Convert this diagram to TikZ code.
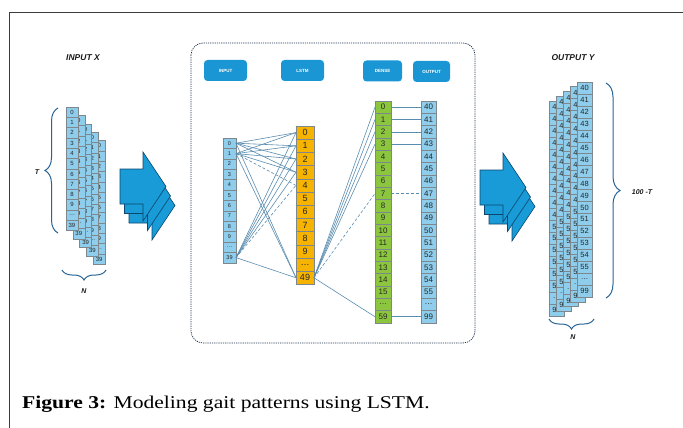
\documentclass[tikz,border=0pt]{standalone}
\usepackage{fontspec}
\setmainfont{Liberation Sans}
\newfontfamily\capfont[FakeStretch=1.2]{Liberation Serif}
\usetikzlibrary{decorations.pathreplacing}
\definecolor{cellblue}{RGB}{142,205,235}
\definecolor{cellorange}{RGB}{246,180,0}
\definecolor{cellgreen}{RGB}{140,198,63}
\definecolor{cellline}{RGB}{125,135,140}
\definecolor{linkc}{RGB}{90,140,175}
\definecolor{btnblue}{RGB}{26,150,212}
\definecolor{arrowfill}{RGB}{24,155,215}
\definecolor{arrowedge}{RGB}{12,70,110}
\definecolor{bracec}{RGB}{40,100,150}
\definecolor{boxc}{RGB}{30,50,80}
\definecolor{framec}{RGB}{60,60,60}
\tikzset{
 cellbox/.style={draw=cellline, line width=0.5pt, inner sep=0pt, outer sep=0pt, text=black!85, anchor=north west},
 link/.style={draw=linkc, line width=0.6pt},
 linkdash/.style={link, dash pattern=on 3pt off 2pt},
 btn/.style={fill=btnblue, rounded corners=3.5pt, text=white, font=\bfseries\fontsize{4.5}{5}\selectfont, minimum height=21pt, inner sep=0pt},
 lbl/.style={font=\bfseries\itshape\fontsize{8.5}{9}\selectfont, text=black!90},
 slbl/.style={font=\bfseries\itshape\fontsize{7}{8}\selectfont, text=black!90},
 bigarrow/.style={fill=arrowfill, draw=arrowedge, line width=0.6pt, line join=miter},
 bracedec/.style={draw=bracec, line width=1pt, decorate, decoration={brace, amplitude=#1}},
}
\newcommand\mkcol[8]{%
 \foreach \lab [count=\i from 0] in {#8}{%
  \node[cellbox, fill=#6, minimum width=#4pt, minimum height=#5pt, font=\fontsize{#7}{#7}\selectfont] (#1-\i) at (#2,{#3+\i*#5}) {\lab};
 }}
\newcommand\bigarr[2]{\filldraw[bigarrow] (#1,#2) -- ++(23,0) -- ++(0,-17) -- ++(23,34.5) -- ++(-23,34.5) -- ++(0,-17) -- ++(-23,0) -- cycle;}
\begin{document}
\begin{tikzpicture}[x=1pt,y=-1pt]
\useasboundingbox (0,0) rectangle (683,428);
% frame
\draw[framec, line width=0.8pt] (683,12) -- (9,12) -- (9,428);
% left stack
\node[lbl] (inx) at (83,58) {INPUT X};
\foreach \k in {4,3,2,1,0}{
 \pgfmathsetmacro\xx{66+6.8*\k}\pgfmathsetmacro\yy{107+8.4*\k}
 \mkcol{L\k}{\xx}{\yy}{12}{10.3}{cellblue}{6}{0,1,2,3,4,5,6,7,8,9,\ldots,39}
}
\draw[bracedec=13pt] (58,233) -- (58,108);
\draw[bracedec=10pt] (106,270) -- (62,270);
\node[slbl] (tl) at (37,172) {T};
\node[slbl] (nl) at (84,291) {N};
% left arrows
\bigarr{129}{188}
\bigarr{124.5}{178.5}
\bigarr{120}{169}
% middle box
\draw[boxc, line width=0.7pt, dash pattern=on 1.2pt off 1pt, rounded corners=12pt] (191,43) rectangle (475,343);
\node[btn, minimum width=43pt] (bIn) at (225.5,70.5) {INPUT};
\node[btn, minimum width=43pt] (bLs) at (302.5,70.5) {LSTM};
\node[btn, minimum width=39pt] (bDe) at (382.5,71) {DENSE};
\node[btn, minimum width=37pt] (bOu) at (431.5,71.5) {OUTPUT};
\mkcol{in}{223}{138}{13}{10.4}{cellblue}{5.5}{0,1,2,3,4,5,6,7,8,9,\ldots,39}
\mkcol{lstm}{296}{126}{18}{13.2}{cellorange}{9}{0,1,2,3,4,5,6,7,8,9,\ldots,49}
\mkcol{dn}{375}{101}{16}{12.33}{cellgreen}{8}{0,1,2,3,4,5,6,7,8,9,10,11,12,13,14,15,\ldots,59}
\mkcol{out}{421}{101}{15}{12.33}{cellblue}{8}{40,41,42,43,44,45,46,47,48,49,50,51,52,53,54,55,\ldots,99}
\foreach \s in {0,1,11}{\foreach \d in {0,1,2,3,11}{\draw[link] (in-\s.east) -- (lstm-\d.west);}}
\foreach \s in {1,11}{\draw[linkdash] (in-\s.east) -- (lstm-4.west);}
\foreach \d in {0,1,2,3,17}{\draw[link] (lstm-11.east) -- (dn-\d.west);}
\draw[linkdash] (lstm-11.east) -- (dn-7.west);
\foreach \d in {0,1,2,3,17}{\draw[link] (dn-\d.east) -- (out-\d.west);}
\draw[linkdash] (dn-7.east) -- (out-7.west);
% right arrows
\bigarr{489}{189}
\bigarr{484.5}{179.5}
\bigarr{480}{170}
% right stack
\node[lbl] (outy) at (573,58) {OUTPUT Y};
\foreach \k in {4,3,2,1,0}{
 \pgfmathsetmacro\xx{577-7*\k}\pgfmathsetmacro\yy{82+4.75*\k}
 \mkcol{R\k}{\xx}{\yy}{15}{11.95}{cellblue}{7.5}{40,41,42,43,44,45,46,47,48,49,50,51,52,53,54,55,\ldots,99}
}
\draw[bracedec=14pt] (606,83) -- (606,298);
\draw[bracedec=10pt] (594,319) -- (549,319);
\node[slbl] (ht) at (642,192) {100 -T};
\node[slbl] (nr) at (573,337) {N};
% caption
\node[anchor=base west, inner sep=0pt, font=\capfont\fontsize{18}{20}\selectfont] (cap) at (22,408) {\textbf{Figure 3:} Modeling gait patterns using LSTM.};
\end{tikzpicture}
\end{document}
